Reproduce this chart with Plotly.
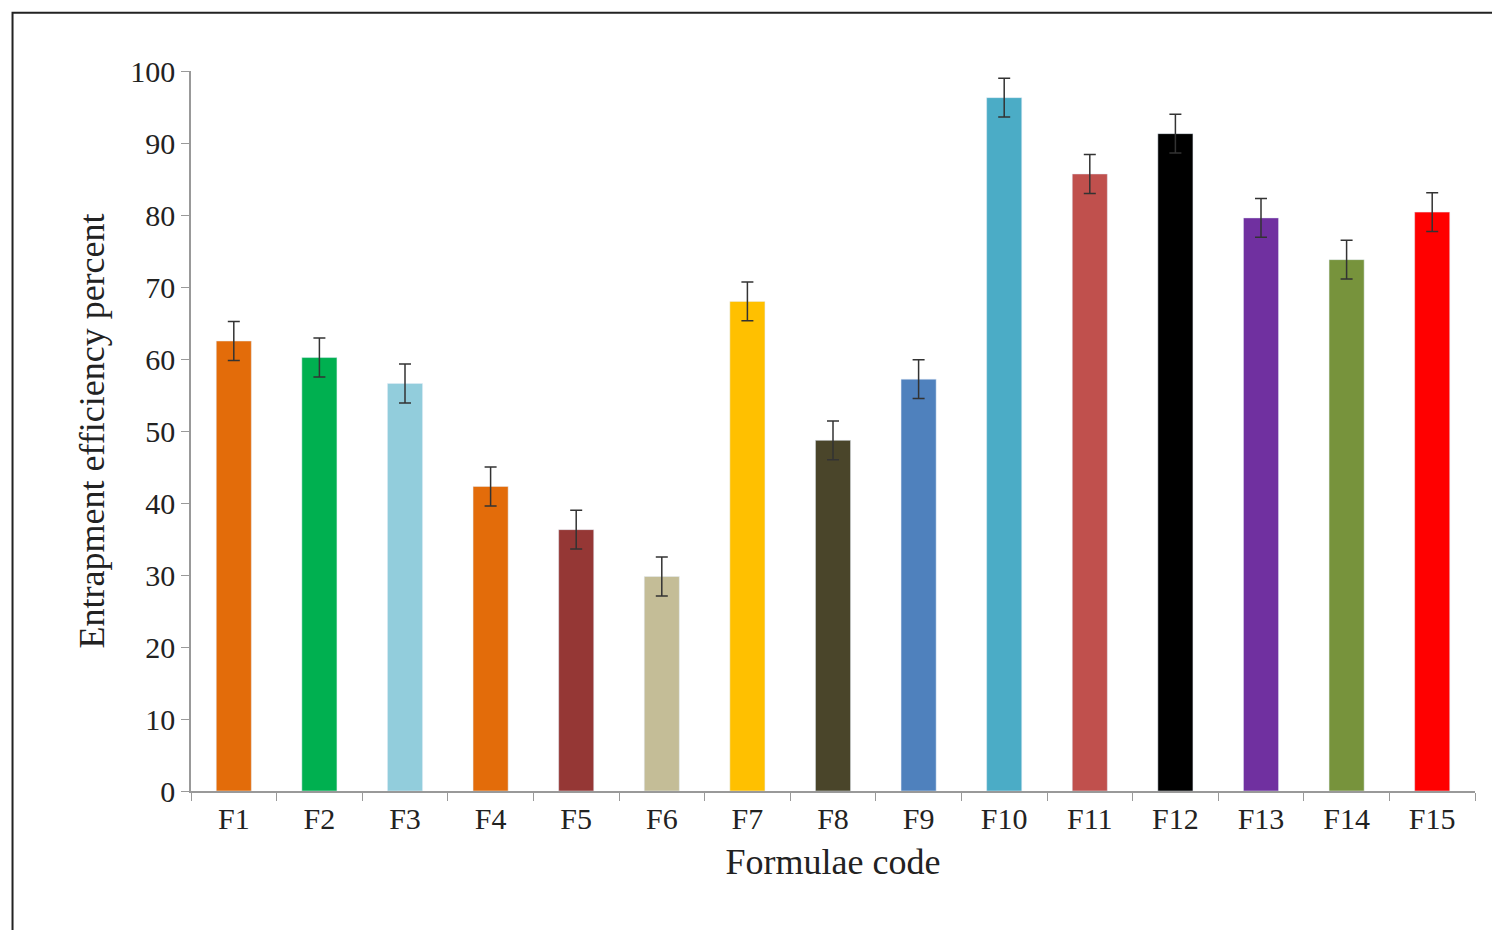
import plotly.graph_objects as go

categories = ["F1","F2","F3","F4","F5","F6","F7","F8","F9","F10","F11","F12","F13","F14","F15"]
values = [62.5, 60.2, 56.6, 42.3, 36.3, 29.8, 68.0, 48.7, 57.2, 96.3, 85.7, 91.3, 79.6, 73.8, 80.4]
errors = [2.7]*15
colors = ["#E36C0A","#00B050","#92CDDC","#E36C0A","#953735","#C4BD97","#FFC000","#4A452A",
          "#4F81BD","#4BACC6","#C0504D","#000000","#7030A0","#77933C","#FF0000"]

font = "Liberation Serif"
fig = go.Figure(go.Bar(
    x=categories, y=values, marker_color=colors, width=0.41,
    error_y=dict(type="data", array=errors, color="#333333", thickness=1.5, width=6),
))
fig.update_layout(
    width=1500, height=930, paper_bgcolor="white", plot_bgcolor="white",
    margin=dict(l=183, r=33, t=63, b=147), showlegend=False,
    font=dict(family=font, size=30, color="#222222"),
    shapes=[dict(type="rect", xref="paper", yref="paper", x0=-0.139, x1=1.0226,
                 y0=-0.197, y1=1.081, line=dict(color="#222222", width=2))],
)
fig.update_xaxes(title=dict(text="Formulae code", standoff=15), showline=True,
                 linecolor="#999999", linewidth=1.5, ticks="outside", tickson="boundaries",
                 ticklen=8, tickcolor="#999999")
fig.update_yaxes(title=dict(text="Entrapment efficiency percent", standoff=15),
                 range=[0, 100], dtick=10, showline=True, linecolor="#999999", linewidth=1.5,
                 ticks="outside", ticklen=8, tickcolor="#999999", showgrid=False, zeroline=False)
fig.write_html("out.html")
